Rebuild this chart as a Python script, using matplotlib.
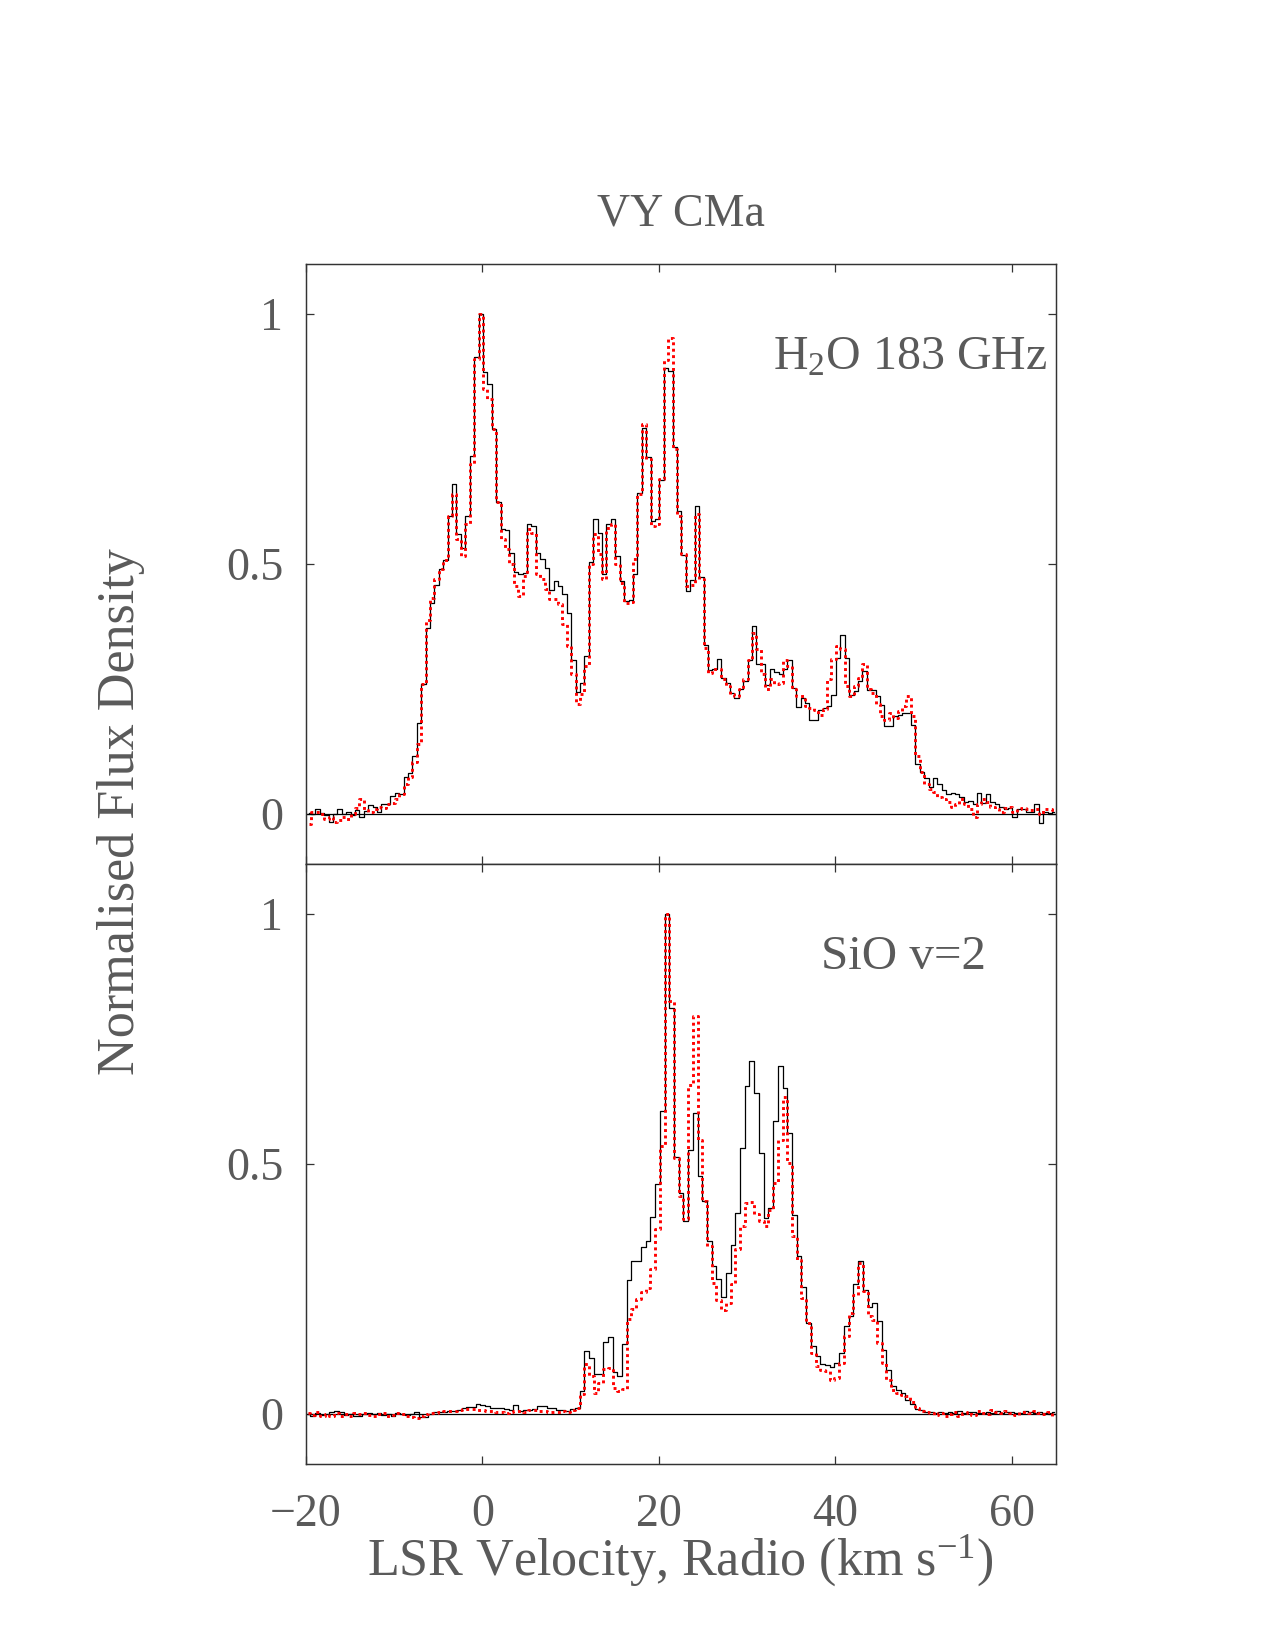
import numpy as np
import matplotlib
matplotlib.use("Agg")
import matplotlib.pyplot as plt

# ---------------- data ----------------
title = "VY CMa"
line_labels = ["H$_2$O 183 GHz", "SiO v=2"]
xticks = [-20, 0, 20, 40, 60]
yticks = [0, 0.5, 1]

# H2O 183 GHz: channel centres start / width (km/s)
h2o_v0 = -19.7
h2o_dv = 0.5
h2o_black = [
    0.003, 0.0, 0.01, 0.003, -0.002, -0.015, 0.0, 0.01, 0.0, 0.004,          # -19.7 .. -15.2
    -0.002, 0.009, -0.006, 0.007, 0.019, 0.014, 0.005, 0.021, 0.021, 0.036,   # -14.7 .. -10.2
    0.043, 0.041, 0.075, 0.082, 0.116, 0.182, 0.26, 0.372, 0.422, 0.459,      # -9.7 .. -5.2
    0.49, 0.508, 0.596, 0.66, 0.56, 0.533, 0.597, 0.717, 0.914, 1.0,          # -4.7 .. -0.2
    0.884, 0.86, 0.77, 0.625, 0.57, 0.569, 0.522, 0.484, 0.48, 0.483,         # 0.3 .. 4.8
    0.58, 0.576, 0.523, 0.51, 0.492, 0.449, 0.466, 0.456, 0.44, 0.402,        # 5.3 .. 9.8
    0.309, 0.244, 0.262, 0.317, 0.504, 0.59, 0.563, 0.48, 0.58, 0.59,         # 10.3 .. 14.8
    0.516, 0.466, 0.426, 0.429, 0.48, 0.642, 0.772, 0.715, 0.586, 0.59,       # 15.3 .. 19.8
    0.669, 0.893, 0.887, 0.735, 0.606, 0.519, 0.447, 0.469, 0.617, 0.474,     # 20.3 .. 24.8
    0.339, 0.289, 0.29, 0.31, 0.273, 0.262, 0.242, 0.232, 0.25, 0.266,       # 25.3 .. 29.8
    0.309, 0.376, 0.30, 0.30, 0.258, 0.29, 0.284, 0.281, 0.29, 0.309,        # 30.3 .. 34.8
    0.253, 0.215, 0.233, 0.222, 0.188, 0.188, 0.208, 0.213, 0.216, 0.238,     # 35.3 .. 39.8
    0.313, 0.359, 0.313, 0.239, 0.246, 0.266, 0.286, 0.249, 0.249, 0.237,    # 40.3 .. 44.8
    0.219, 0.177, 0.177, 0.196, 0.199, 0.202, 0.202, 0.179, 0.101, 0.084,     # 45.3 .. 49.8
    0.072, 0.055, 0.072, 0.06, 0.048, 0.04, 0.043, 0.04, 0.035, 0.025,        # 50.3 .. 54.8
    0.026, 0.02, 0.043, 0.023, 0.041, 0.025, 0.02, 0.014, 0.01, 0.012,        # 55.3 .. 59.8
    -0.005, 0.01, 0.01, 0.005, 0.005, 0.02, -0.017, 0.005, 0.003, 0.005,      # 60.3 .. 64.8
]
h2o_red = [
    -0.02, 0.005, 0.005, 0.0, -0.01, -0.005, -0.015, -0.012, -0.005, -0.01,
    0.0, 0.012, 0.03, 0.008, 0.005, 0.01, 0.015, 0.012, 0.02, 0.022,
    0.03, 0.04, 0.06, 0.075, 0.105, 0.14, 0.26, 0.389, 0.432, 0.47,
    0.49, 0.508, 0.596, 0.64, 0.55, 0.516, 0.58, 0.70, 0.91, 1.0,
    0.85, 0.83, 0.77, 0.625, 0.55, 0.53, 0.50, 0.456, 0.436, 0.476,
    0.57, 0.563, 0.48, 0.47, 0.45, 0.43, 0.43, 0.42, 0.38, 0.336,
    0.28, 0.22, 0.24, 0.296, 0.50, 0.56, 0.52, 0.47, 0.573, 0.58,
    0.50, 0.463, 0.422, 0.425, 0.51, 0.64, 0.78, 0.71, 0.576, 0.58,
    0.67, 0.909, 0.953, 0.73, 0.596, 0.52, 0.456, 0.459, 0.60, 0.47,
    0.333, 0.283, 0.29, 0.29, 0.27, 0.256, 0.24, 0.236, 0.25, 0.27,
    0.309, 0.362, 0.33, 0.28, 0.25, 0.27, 0.26, 0.262, 0.309, 0.296,
    0.25, 0.236, 0.237, 0.216, 0.212, 0.209, 0.199, 0.21, 0.27, 0.31,
    0.336, 0.33, 0.256, 0.236, 0.256, 0.272, 0.30, 0.25, 0.242, 0.22,
    0.196, 0.189, 0.202, 0.193, 0.206, 0.216, 0.236, 0.196, 0.116, 0.085,
    0.06, 0.05, 0.045, 0.035, 0.03, 0.025, 0.015, 0.02, 0.03, 0.02,
    0.01, -0.005, 0.02, 0.03, 0.025, 0.015, 0.01, 0.005, 0.012, 0.015,
    0.005, 0.01, 0.012, 0.01, 0.008, 0.01, 0.0, 0.01, 0.01, 0.008,
]

# SiO v=2: channel centres start / width (km/s)
sio_v0 = -19.76
sio_dv = 0.535
sio_black = [
    0.0, -0.003, 0.002, -0.002, 0.0, 0.004, 0.006, 0.005, -0.002, 0.0,
    -0.003, -0.004, 0.0, 0.002, 0.001, 0.003, -0.002, 0.0, -0.003, 0.002,
    0.0, -0.002, 0.001, 0.004, -0.005, -0.006, 0.001, 0.005, 0.004, 0.004,
    0.006, 0.007, 0.008, 0.012, 0.015, 0.015, 0.021, 0.019, 0.017, 0.013,
    0.012, 0.012, 0.011, 0.008, 0.019, 0.007, 0.008, 0.009, 0.011, 0.016,
    0.017, 0.012, 0.013, 0.008, 0.008, 0.007, 0.011, 0.012,
    0.046, 0.126, 0.113, 0.081, 0.081, 0.144, 0.155, 0.084, 0.076, 0.141,
    0.269, 0.306, 0.306, 0.334, 0.346, 0.394, 0.461, 0.606, 1.0, 0.813,
    0.515, 0.443, 0.386, 0.529, 0.602, 0.476, 0.427, 0.346, 0.297, 0.271,
    0.234, 0.283,
    0.339, 0.402, 0.533, 0.656, 0.706, 0.642, 0.523, 0.393, 0.413, 0.586,
    0.696, 0.653, 0.563, 0.399, 0.316, 0.255, 0.182, 0.136, 0.117, 0.101,
    0.099, 0.095, 0.103, 0.123, 0.176, 0.196, 0.26, 0.307, 0.249, 0.215,
    0.222, 0.186, 0.128, 0.089, 0.057, 0.049, 0.043, 0.029,
    0.02, 0.01, 0.008, 0.005, 0.004, 0.003, 0.005, 0.002, 0.004, 0.003,
    0.006, 0.002, 0.005, 0.004, 0.003, 0.002, 0.005, 0.003, 0.007, 0.002,
    0.004, 0.005, 0.003, 0.002, 0.006, 0.004, 0.003, 0.005, 0.002, 0.003,
    0.004,
]
sio_red = [
    0.003, -0.002, 0.004, -0.003, 0.0, -0.004, 0.002, -0.003, 0.0, -0.004,
    0.002, 0.0, 0.003, -0.002, -0.003, 0.0, 0.002, -0.004, -0.002, 0.002,
    0.0, -0.003, -0.006, -0.008, -0.004, 0.0, 0.002, 0.003, 0.004, 0.006,
    0.007, 0.007, 0.008, 0.01, 0.01, 0.011, 0.009, 0.008, 0.006, 0.007,
    0.005, 0.004, 0.003, 0.005, 0.006, 0.007, 0.005, 0.008, 0.009, 0.007,
    0.006, 0.005, 0.004, 0.004, 0.006, 0.005, 0.008, 0.012,
    0.04, 0.10, 0.076, 0.042, 0.063, 0.09, 0.092, 0.053, 0.046, 0.05,
    0.19, 0.21, 0.23, 0.245, 0.253, 0.29, 0.37, 0.536, 1.0, 0.826,
    0.513, 0.436, 0.39, 0.659, 0.796, 0.549, 0.426, 0.336, 0.262, 0.229,
    0.209, 0.222,
    0.26, 0.33, 0.376, 0.422, 0.425, 0.40, 0.386, 0.376, 0.409, 0.463,
    0.549, 0.634, 0.503, 0.356, 0.309, 0.232, 0.182, 0.123, 0.096, 0.089,
    0.086, 0.069, 0.073, 0.103, 0.156, 0.203, 0.239, 0.302, 0.246, 0.196,
    0.189, 0.142, 0.103, 0.069, 0.049, 0.043, 0.039, 0.036,
    0.025, 0.012, 0.006, 0.004, 0.002, -0.002, 0.003, -0.004, 0.0, 0.005,
    -0.003, 0.002, 0.004, -0.002, 0.006, 0.003, 0.0, 0.008, 0.004, 0.002,
    0.006, 0.003, -0.002, 0.004, 0.005, 0.002, 0.006, 0.003, 0.001, 0.004,
    -0.003,
]

# ---------------- style ----------------
FONT = "Liberation Serif"
TXT = "#5a5a5a"
plt.rcParams["font.family"] = [FONT, "DejaVu Serif"]
plt.rcParams["mathtext.fontset"] = "custom"
plt.rcParams["mathtext.rm"] = FONT
plt.rcParams["mathtext.default"] = "regular"
plt.rcParams["axes.unicode_minus"] = True

fig = plt.figure(figsize=(8.5, 11), dpi=150)
L, W = 306 / 1275, 750 / 1275
H = 600 / 1650
ax_top = fig.add_axes([L, 1 - 864 / 1650, W, H])
ax_bot = fig.add_axes([L, 1 - 1464 / 1650, W, H])

panels = [
    (ax_top, h2o_v0, h2o_dv, h2o_black, h2o_red, line_labels[0]),
    (ax_bot, sio_v0, sio_dv, sio_black, sio_red, line_labels[1]),
]
for ax, v0, dv, blk, red, lab in panels:
    vb = v0 + dv * np.arange(len(blk))
    vr = v0 + dv * np.arange(len(red))
    ax.plot(vb, blk, drawstyle="steps-mid", color="black", lw=0.6, zorder=3)
    ax.plot(vr, red, drawstyle="steps-mid", color="red", lw=1.4,
            linestyle=(0, (1, 1.2)), zorder=4)
    ax.axhline(0, color="black", lw=0.6, zorder=2)
    ax.set_xlim(-20, 65)
    ax.set_ylim(-0.1, 1.1)
    ax.set_xticks(xticks)
    ax.set_yticks(yticks)
    ax.set_yticklabels(["0", "0.5", "1"])
    ax.tick_params(direction="in", length=4, width=0.6, top=True, right=True,
                   colors="#333333", labelcolor=TXT, labelsize=22)
    ax.tick_params(axis="y", pad=11)
    ax.tick_params(axis="x", pad=14)
    for s in ax.spines.values():
        s.set_linewidth(0.7)
        s.set_color("#333333")

ax_top.tick_params(labelbottom=False)
ax_top.text(64, 0.89, line_labels[0], ha="right", va="baseline",
            fontsize=23, color=TXT)
ax_bot.text(38.4, 0.89, line_labels[1], ha="left", va="baseline",
            fontsize=23.5, color=TXT)

fig.text(681 / 1275, 1 - 214 / 1650, title, ha="center", va="center",
         fontsize=22, color=TXT)
fig.text(121 / 1275, 1 - 812 / 1650, "Normalised Flux Density", rotation=90,
         ha="center", va="center", fontsize=25, color=TXT)
fig.text(680 / 1275, 1 - 1560 / 1650, "LSR Velocity, Radio (km s$^{-1}$)",
         ha="center", va="center", fontsize=25, color=TXT)

fig.savefig("out.png", dpi=150, facecolor="white")
